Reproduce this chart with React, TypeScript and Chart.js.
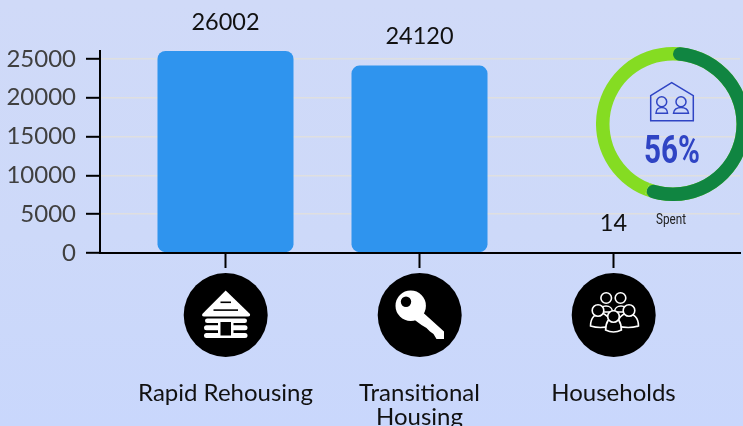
import React, { useEffect, useRef } from "react";
import { Chart, registerables } from "chart.js";

Chart.register(...registerables);

const categories = ["Rapid Rehousing", ["Transitional", "Housing"], "Households"];
const positions = [0, 1, 2];
const values = [26002, 24120, 14];
const yTicks = [0, 5000, 10000, 15000, 20000, 25000];
const donutSpent = [56, 44];

const valueLabels = {
  id: "valueLabels",
  afterDatasetsDraw(chart: any) {
    const ctx = chart.ctx;
    ctx.save();
    ctx.font = '23.5px Lato';
    ctx.fillStyle = "#111";
    ctx.textAlign = "center";
    ctx.textBaseline = "middle";
    chart.getDatasetMeta(0).data.forEach((bar: any, i: number) => {
      ctx.fillText(String(values[i]), bar.x, bar.y - 29);
    });
    ctx.restore();
  },
};

function People({ x, y }: { x: number; y: number }) {
  return (
    <g transform={`translate(${x} ${y})`} stroke="#fff" strokeWidth={1.6} fill="#000">
      <path d="M-14 -3 C-14 -11 -1 -11 -1 -3 Z" />
      <path d="M1 -3 C1 -11 14 -11 14 -3 Z" />
      <circle cx={-7.3} cy={-17} r={5.3} />
      <circle cx={7} cy={-17} r={5.3} />
      <path d="M-23 11 C-23 -6 -3 -6 -3 11 Q-13 14 -23 11 Z" />
      <path d="M4 11 C4 -6 25 -6 25 11 Q15 14 4 11 Z" />
      <circle cx={-15.5} cy={-4.5} r={5.8} />
      <circle cx={15.5} cy={-4.5} r={5.8} />
      <path d="M-7.5 15 C-7.5 -2 7.5 -2 7.5 15 Q0 19 -7.5 15 Z" transform="scale(1.05 1)" />
      <circle cx={0} cy={1.5} r={5.8} />
    </g>
  );
}

function Overlay() {
  return (
    <svg width={743} height={426} style={{ position: "absolute", left: 0, top: 0 }}>
      <circle cx={225.7} cy={315} r={42} fill="#000" />
      <circle cx={419.7} cy={315} r={42} fill="#000" />
      <circle cx={613.7} cy={315} r={42} fill="#000" />
      {/* cabin */}
      <path d="M225.7 290.5 L250 314 Q250.5 316.5 248 316.5 L204 316.5 Q201.5 316.5 202.3 314 Z" fill="#fff" />
      <rect x={220.5} y={301.5} width={10.5} height={1.6} fill="#000" />
      <rect x={213.5} y={309.3} width={24.5} height={1.6} fill="#000" />
      <rect x={205} y={318.5} width={42} height={4.6} rx={2.3} fill="#fff" />
      <rect x={204} y={325.3} width={43.5} height={5} rx={2.5} fill="#fff" />
      <rect x={204} y={333} width={43.5} height={5} rx={2.5} fill="#fff" />
      <rect x={218} y={319} width={15.5} height={19} fill="#fff" />
      <rect x={220.5} y={322} width={10.5} height={13.5} fill="#000" />
      {/* key */}
      <circle cx={410.7} cy={305.7} r={15.2} fill="#fff" />
      <circle cx={406} cy={301.7} r={5.2} fill="#000" />
      <path d="M418 308 L444 331.5 L444 339 L436.5 339 L433.5 334 L430 331.5 L426.5 328 L421.5 325 L412 318 Z" fill="#fff" />
      <People x={613.5} y={315} />
      {/* house icon */}
      <g stroke="#2f44c4" strokeWidth={1.5} fill="none">
        <path d="M650.7 95.7 L671.7 82.7 L693.3 95.7 L693.3 120.7 L650.7 120.7 Z" />
        <circle cx={661.7} cy={101.7} r={5} />
        <circle cx={681} cy={101.7} r={5} />
        <path d="M656 113.3 C656 105.5 667.5 105.5 667.5 113.3 Z" />
        <path d="M673.5 113.3 C673.5 105.5 688.5 105.5 688.5 113.3 Z" />
      </g>
    </svg>
  );
}

export default function App() {
  const mainRef = useRef<HTMLCanvasElement>(null);
  const lightRef = useRef<HTMLCanvasElement>(null);
  const darkRef = useRef<HTMLCanvasElement>(null);

  useEffect(() => {
    const main = new Chart(mainRef.current as any, {
      type: "bar",
      data: {
        datasets: [
          {
            data: positions.map((x, i) => ({ x, y: values[i] })),
            backgroundColor: "#2f94ee",
            barThickness: 136,
            borderRadius: 8,
            borderSkipped: false,
            inflateAmount: 0,
          },
        ],
      },
      options: {
        animation: false,
        responsive: false,
        events: [],
        layout: { padding: { top: 51, right: 3, left: 0, bottom: 0 } },
        plugins: { legend: { display: false }, tooltip: { enabled: false } },
        scales: {
          x: {
            type: "linear",
            offset: false,
            min: (100 - 225.5) / 194,
            max: (740 - 225.5) / 194,
            afterBuildTicks(scale: any) {
              scale.ticks = positions.map((value) => ({ value }));
            },
            afterFit(scale: any) {
              scale.height = 173;
              scale.paddingLeft = 0;
              scale.paddingRight = 0;
            },
            border: { color: "#000", width: 2, z: 1 },
            grid: { offset: false, drawOnChartArea: false, tickColor: "#000", tickLength: 15, tickWidth: 2 },
            ticks: {
              autoSkip: false,
              maxRotation: 0,
              padding: 113,
              color: "#111",
              font: { family: "Lato", size: 24, lineHeight: 1 },
              callback: (v: any) => categories[v] as any,
            },
          },
          y: {
            min: 0,
            max: 26002,
            afterBuildTicks(scale: any) {
              scale.ticks = yTicks.map((value) => ({ value }));
            },
            afterFit(scale: any) {
              scale.width = 100;
            },
            border: { color: "#000", width: 2 },
            grid: { color: "#dfdfe0", lineWidth: 1.6, tickColor: "#000", tickLength: 14, tickWidth: 2 },
            ticks: {
              padding: 10,
              color: "#404040",
              font: { family: "Lato", size: 24 },
              callback: (v: any) => String(v),
            },
          },
        },
      } as any,
      plugins: [valueLabels],
    } as any);

    const ringOptions = {
      animation: false,
      responsive: false,
      events: [],
      cutout: 63.5,
      radius: 77,
      plugins: { legend: { display: false }, tooltip: { enabled: false } },
    } as any;
    const light = new Chart(lightRef.current as any, {
      type: "doughnut",
      data: {
        datasets: [{ data: donutSpent, backgroundColor: "#85dc22", borderWidth: 0 }],
      },
      options: ringOptions,
    });
    const dark = new Chart(darkRef.current as any, {
      type: "doughnut",
      data: {
        datasets: [
          {
            data: donutSpent,
            backgroundColor: ["#108541", "rgba(0,0,0,0)"],
            borderWidth: 0,
            borderRadius: 7,
          },
        ],
      },
      options: ringOptions,
    });
    return () => {
      main.destroy();
      light.destroy();
      dark.destroy();
    };
  }, []);

  const ringStyle: React.CSSProperties = { position: "absolute", left: 596, top: 47, width: 154, height: 154 };

  return (
    <div
      style={{
        position: "fixed",
        left: 0,
        top: 0,
        width: 743,
        height: 426,
        overflow: "hidden",
        background: "linear-gradient(180deg, #d0daf8 0%, #cdd9f9 55%, #c9d7fc 100%)",
      }}
    >
      <canvas ref={mainRef} width={743} height={426} style={{ position: "absolute", left: 0, top: 0 }} />
      <canvas ref={lightRef} width={154} height={154} style={ringStyle} />
      <canvas ref={darkRef} width={154} height={154} style={ringStyle} />
      <Overlay />
      <span
        style={{
          position: "absolute",
          left: 622,
          width: 100,
          top: 127,
          textAlign: "center",
          font: "700 38px/46px Roboto",
          color: "#2f44c4",
          transform: "scaleX(0.78)",
        }}
      >
        56%
      </span>
      <span
        style={{
          position: "absolute",
          left: 621,
          width: 100,
          top: 210,
          textAlign: "center",
          font: "400 15px/18px Roboto",
          color: "#222",
          transform: "scaleX(0.78)",
        }}
      >
        Spent
      </span>
    </div>
  );
}
